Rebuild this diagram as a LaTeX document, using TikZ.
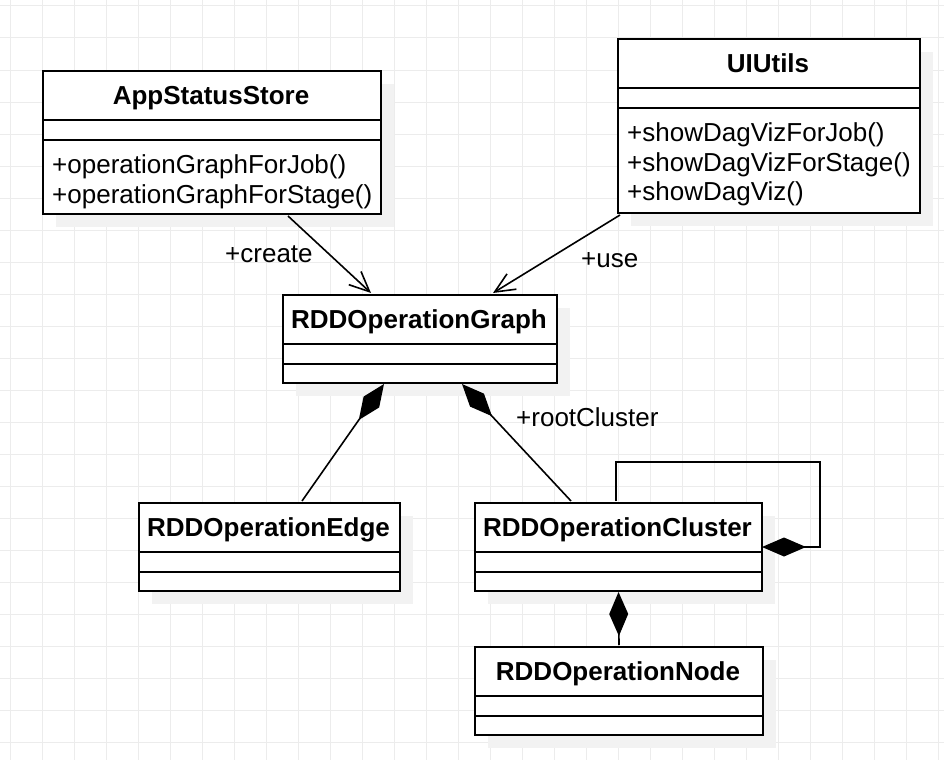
\documentclass[tikz,border=0pt]{standalone}
\usepackage{fontspec}
\setmainfont{Liberation Sans}
\usetikzlibrary{arrows.meta,calc}
\definecolor{gridc}{RGB}{236,236,236}
\definecolor{shadowc}{RGB}{242,242,242}
\tikzset{
  umlbox/.style={draw, line width=2pt, fill=white, inner sep=0pt, anchor=north west},
  sepline/.style={line width=2pt},
  assoc/.style={line width=1.6pt, -{Straight Barb[length=20pt,width=18pt]}},
  comp/.style={line width=1.6pt, -{Diamond[length=44pt,width=19pt]}},
  ctitle/.style={font=\fontsize{26}{30}\selectfont\bfseries, anchor=base, inner sep=0pt},
  member/.style={font=\fontsize{26}{30}\selectfont, anchor=base west, inner sep=0pt},
  lbl/.style={font=\fontsize{26}{30}\selectfont, anchor=base west, inner sep=0pt},
}
% name, x1, y1, x2, y2, sep1, sep2
\newcommand\umlclass[7]{%
  \fill[shadowc] ({#2+14},{#3+14}) rectangle ({#4+14},{#5+14});
  \node[umlbox, minimum width={(#4)-(#2)}, minimum height={(#5)-(#3)}] (#1) at (#2,#3) {};
  \draw[sepline] (#2,#6) -- (#4,#6) (#2,#7) -- (#4,#7);
}
\begin{document}
\begin{tikzpicture}[x=1pt,y=-1pt]
\useasboundingbox (0,0) rectangle (944,760);
\fill[white] (0,0) rectangle (944,760);
% grid
\foreach \x in {10,42,...,938} \draw[gridc, line width=1pt] (\x,0) -- (\x,760);
\foreach \y in {6,38,...,758} \draw[gridc, line width=1pt] (0,\y) -- (944,\y);

% classes
\umlclass{app}{42}{70}{380}{213}{120}{140}
\umlclass{ui}{617}{38}{919}{212}{88}{108}
\umlclass{graph}{282}{294}{556}{382}{344}{364}
\umlclass{edge}{138}{502}{399}{590}{552}{572}
\umlclass{cluster}{474}{502}{761}{590}{552}{572}
\umlclass{rddnode}{474}{646}{762}{734}{696}{716}

% titles
\node[ctitle] (t-app) at (211,104) {AppStatusStore};
\node[ctitle] (t-ui) at (768,72) {UIUtils};
\node[ctitle] (t-graph) at (419,328) {RDDOperationGraph};
\node[ctitle] (t-edge) at (268.5,536) {RDDOperationEdge};
\node[ctitle] (t-cluster) at (617.5,536) {RDDOperationCluster};
\node[ctitle] (t-node) at (618,680) {RDDOperationNode};

% members
\node[member] (m-app1) at (52,173) {+operationGraphForJob()};
\node[member] (m-app2) at (52,203) {+operationGraphForStage()};
\node[member] (m-ui1) at (627,141) {+showDagVizForJob()};
\node[member] (m-ui2) at (627,171) {+showDagVizForStage()};
\node[member] (m-ui3) at (627,200) {+showDagViz()};

% connectors
\draw[assoc] ($(app.south west)+(246,1)$) -- ($(graph.north west)+(89,-1)$);
\draw[assoc] ($(ui.south west)+(3,1)$) -- ($(graph.north west)+(211,-1)$);
\draw[comp] ($(edge.north west)+(164,-1)$) -- ($(graph.south west)+(102,0)$);
\draw[comp] ($(cluster.north west)+(97,-1)$) -- ($(graph.south west)+(180,0)$);
\draw[comp] ($(cluster.north west)+(142,-1)$) -- ++(0,-39) -| ($(cluster.east)+(57,0)$) -- ($(cluster.east)+(-1,0)$);
\draw[comp] ($(rddnode.north)+(0,-1)$) -- ($(cluster.south)+(0,0)$);

% labels
\node[lbl] (l-create) at (225,262) {+create};
\node[lbl] (l-use) at (581,267) {+use};
\node[lbl] (l-root) at (516,426) {+rootCluster};
\end{tikzpicture}
\end{document}
